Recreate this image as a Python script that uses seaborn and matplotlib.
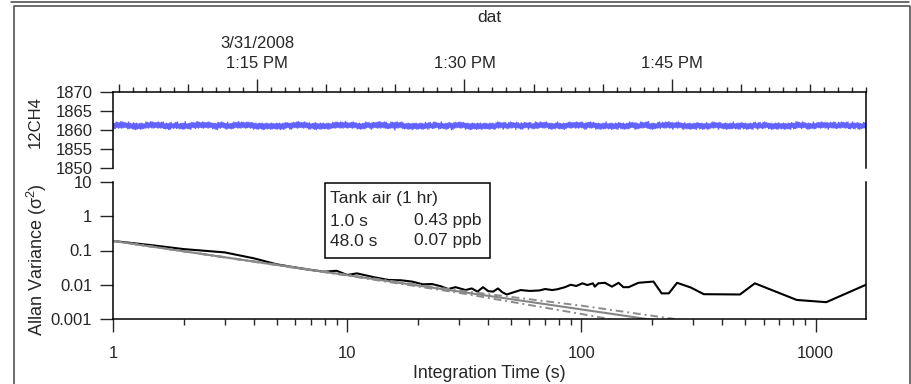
import numpy as np
import pandas as pd
import seaborn as sns
import matplotlib
matplotlib.use("Agg")
import matplotlib.pyplot as plt
import matplotlib.dates as mdates
import matplotlib.ticker as mticker
from matplotlib.patches import Rectangle
from matplotlib.lines import Line2D

# ---------------- data ----------------
# 12CH4 trace (ppb): hand-estimated excursions around the baseline, one digit per
# sample (digit -> size of the excursion, alternating above/below the baseline)
ch4_digits = (
    "352461534273625142356423154627351426352413625341726352415362"
    "435264153427365214325463152436257314253641523462735142635241"
    "536241352436175243615234265314253462415372436152435261435246"
    "243516342537162435142635241536243715263542413526435142637251"
    "425361423546132536472415362435142536241352436251436253417253"
    "314253624135243615243562415326435142536273415263542413625348"
    "526341526435142536241735243615243526145326435214536241352463"
    "241536245137264352415263425136243517263425163524361524352416"
    "352436154263524136524315426352413652431546235241365243152463"
    "543261524352613425362415326435241536243152634251436253416253"
    "263541526342513624352614352463152436251435264135243615243562"
    "415236452413625341526374152635241352643152436251734256314253"
    "624135264315243625143526413524361523462513426352413652431524"
    "362514352463152436254135243615243526415326435214536241352436"
    "152435264315243625143526413524736152346251342635241365243152"
    "436251435246315243625413524361524352641532643521453624135246"
)
ch4_base = 1861.15
ch4_unit = 0.1
ch4_min_amp = 0.35
ch4_start = "2008-03-31 13:04:35"
ch4_end = "2008-03-31 13:59:02"

# Allan variance (black)
tau = [1, 1.5, 2, 3, 4, 5, 6, 7, 8, 9, 10, 11, 13, 15, 17, 19, 21, 23, 25, 27, 29,
       32, 34, 36, 38, 40, 42, 44, 46, 48, 52, 55, 60, 66, 70, 75, 79, 85, 90, 95,
       101, 106, 112, 114, 118, 126, 135, 144, 151, 159, 175, 203, 220, 236, 256,
       293, 333, 475, 550, 830, 1110, 1640]
avar = [0.19, 0.14, 0.11, 0.088, 0.059, 0.0395, 0.032, 0.027, 0.024, 0.0256, 0.0193,
        0.0215, 0.0166, 0.0138, 0.0135, 0.0123, 0.0103, 0.0105, 0.0091, 0.0075, 0.0085,
        0.0070, 0.0078, 0.0063, 0.0085, 0.0065, 0.0063, 0.0078, 0.0060, 0.0052, 0.0062,
        0.0070, 0.0066, 0.0068, 0.0075, 0.0070, 0.0074, 0.0085, 0.0100, 0.0092,
        0.0110, 0.0098, 0.0110, 0.0088, 0.0110, 0.0114, 0.0088, 0.0114, 0.0085, 0.0085,
        0.0114, 0.0124, 0.0056, 0.0056, 0.0114, 0.0083, 0.0053, 0.0052, 0.0110, 0.0036,
        0.0031, 0.0100]

# white-noise reference (grey solid) and its bounds (grey dash-dot)
fit_tau = [1, 1640]
fit_var = [0.19, 0.000116]
bound_tau = [1, 10, 30, 100, 250, 400]
upper_var = [0.19, 0.0195, 0.0068, 0.00245, 0.0010, 0.00062]
lower_var = [0.19, 0.0185, 0.0058, 0.0014, 0.00045, 0.00025]

x_ticks = [1, 10, 100, 1000]
x_ticklabels = ["1", "10", "100", "1000"]
y_ticks = [0.001, 0.01, 0.1, 1, 10]
y_ticklabels = ["0.001", "0.01", "0.1", "1", "10"]
ch4_ticks = [1850, 1855, 1860, 1865, 1870]
time_labels = {"13:15": "3/31/2008\n1:15 PM", "13:30": "1:30 PM", "13:45": "1:45 PM"}

box_title = "Tank air (1 hr)"
box_rows = [("1.0 s", "0.43 ppb"), ("48.0 s", "0.07 ppb")]

# ---------------- figure ----------------
W, H = 912, 384
sns.set_style("ticks")
plt.rcParams["font.family"] = ["Liberation Sans", "DejaVu Sans"]
plt.rcParams["font.size"] = 12
plt.rcParams["mathtext.fontset"] = "custom"
plt.rcParams["mathtext.rm"] = "Liberation Sans"
plt.rcParams["mathtext.it"] = "Liberation Sans"
fig = plt.figure(figsize=(W / 100, H / 100), dpi=100)


def fx(px):
    return px / W


def fy(py):
    return 1 - py / H


L, R = 113, 866
ax_top = fig.add_axes([fx(L), fy(168), fx(R) - fx(L), fy(92) - fy(168)])
ax_bot = fig.add_axes([fx(L), fy(319), fx(R) - fx(L), fy(182) - fy(319)])
for ax in (ax_top, ax_bot):
    ax.set_facecolor("none")
    for s in ax.spines.values():
        s.set_linewidth(1.1)
        s.set_color("black")

# --- top panel ---
vals = [ch4_base + (1 if i % 2 == 0 else -1) * (ch4_min_amp + int(d) * ch4_unit)
        for i, d in enumerate(ch4_digits)]
times = pd.date_range(ch4_start, ch4_end, periods=len(vals))
df_top = pd.DataFrame({"time": times, "ch4": vals})
sns.lineplot(data=df_top, x="time", y="ch4", ax=ax_top, color="#6262ff",
             lw=1.0, estimator=None)
ax_top.set_xlim(pd.Timestamp(ch4_start), pd.Timestamp(ch4_end))
ax_top.set_ylim(1850, 1870)
ax_top.spines["bottom"].set_visible(False)
ax_top.xaxis.tick_top()
tick_times = pd.date_range("2008-03-31 13:05", "2008-03-31 13:59", freq="1min")
ax_top.xaxis.set_major_locator(mticker.FixedLocator(mdates.date2num(tick_times.to_pydatetime())))
ax_top.xaxis.set_major_formatter(mticker.FixedFormatter(
    [time_labels.get(t.strftime("%H:%M"), "") for t in tick_times]))
ax_top.tick_params(axis="x", which="major", direction="out", length=9.4, width=1.0,
                   pad=5.5, labelsize=12, top=True, bottom=False)
for tk, t in zip(ax_top.xaxis.get_major_ticks(), tick_times):
    if t.minute % 15 == 0:
        ms = 9.4
    elif t.minute % 5 == 0:
        ms = 5.8
    else:
        ms = 3.6
    tk.tick1line.set_markersize(ms)
    tk.tick2line.set_markersize(ms)
    tk.label2.set_linespacing(1.45)
ax_top.set_yticks(ch4_ticks)
ax_top.set_yticklabels([str(v) for v in ch4_ticks])
ax_top.tick_params(axis="y", direction="out", length=9.4, width=1.0, pad=5, labelsize=12)
ax_top.set_xlabel("")
ax_top.set_ylabel("")

# --- bottom panel ---
ax_bot.set_xscale("log")
ax_bot.set_yscale("log")
df_av = pd.DataFrame({"tau": tau, "avar": avar})
sns.lineplot(data=df_av, x="tau", y="avar", ax=ax_bot, color="black", lw=1.5,
             estimator=None, sort=False)
df_fit = pd.DataFrame({"tau": fit_tau, "v": fit_var})
sns.lineplot(data=df_fit, x="tau", y="v", ax=ax_bot, color="#858585", lw=1.5,
             estimator=None)
df_b = pd.DataFrame({"tau": bound_tau, "up": upper_var, "lo": lower_var})
sns.lineplot(data=df_b, x="tau", y="up", ax=ax_bot, color="#8c8c8c", lw=1.4,
             estimator=None, linestyle=(0, (4, 2, 1, 2)))
sns.lineplot(data=df_b, x="tau", y="lo", ax=ax_bot, color="#8c8c8c", lw=1.4,
             estimator=None, linestyle=(0, (4, 2, 1, 2)))
ax_bot.set_xlim(1, 1640)
ax_bot.set_ylim(0.001, 10)
ax_bot.spines["top"].set_visible(False)
ax_bot.xaxis.set_major_locator(mticker.FixedLocator(x_ticks))
ax_bot.xaxis.set_major_formatter(mticker.FixedFormatter(x_ticklabels))
ax_bot.xaxis.set_minor_locator(mticker.LogLocator(base=10, subs=np.arange(2, 10), numticks=20))
ax_bot.xaxis.set_minor_formatter(mticker.NullFormatter())
ax_bot.yaxis.set_major_locator(mticker.FixedLocator(y_ticks))
ax_bot.yaxis.set_major_formatter(mticker.FixedFormatter(y_ticklabels))
ax_bot.yaxis.set_minor_locator(mticker.NullLocator())
ax_bot.tick_params(axis="x", which="major", direction="out", length=9.4, width=1.0,
                   pad=10, labelsize=12)
ax_bot.tick_params(axis="x", which="minor", direction="out", length=4.3, width=1.0)
ax_bot.tick_params(axis="y", which="major", direction="out", length=9.4, width=1.0,
                   pad=5.5, labelsize=12)
ax_bot.set_xlabel("")
ax_bot.set_ylabel("")

# --- labels ---
fig.text(fx(489), fy(18), "dat", ha="center", va="center", fontsize=12.5)
fig.text(fx(489), fy(373), "Integration Time (s)", ha="center", va="center", fontsize=12.8)
fig.text(fx(35), fy(122), "12CH4", ha="center", va="center", rotation=90, fontsize=12)
fig.text(fx(37), fy(260), r"Allan Variance (σ$^{2}$)", ha="center", va="center",
         rotation=90, fontsize=13)

# --- annotation box ---
fig.add_artist(Rectangle((fx(325.5), fy(258)), fx(490) - fx(325.5), fy(182.5) - fy(258),
                         transform=fig.transFigure, facecolor="white",
                         edgecolor="black", lw=1.1, zorder=5))
fig.text(fx(330), fy(199), box_title, ha="left", va="center", fontsize=12.5, zorder=6)
for (a, b), yy in zip(box_rows, [221, 241]):
    fig.text(fx(330), fy(yy), a, ha="left", va="center", fontsize=12.5, zorder=6)
    fig.text(fx(414), fy(yy), b, ha="left", va="center", fontsize=12.5, zorder=6)

# --- window frame ---
fc = "#444444"
fig.add_artist(Line2D([fx(11), fx(909)], [fy(1.5), fy(1.5)], transform=fig.transFigure,
                      color=fc, lw=1.1))
fig.add_artist(Line2D([fx(14.5), fx(14.5), fx(910.5), fx(910.5)],
                      [fy(384), fy(5.5), fy(5.5), fy(384)], transform=fig.transFigure,
                      color=fc, lw=1.1))

fig.savefig("out.png", dpi=100)
